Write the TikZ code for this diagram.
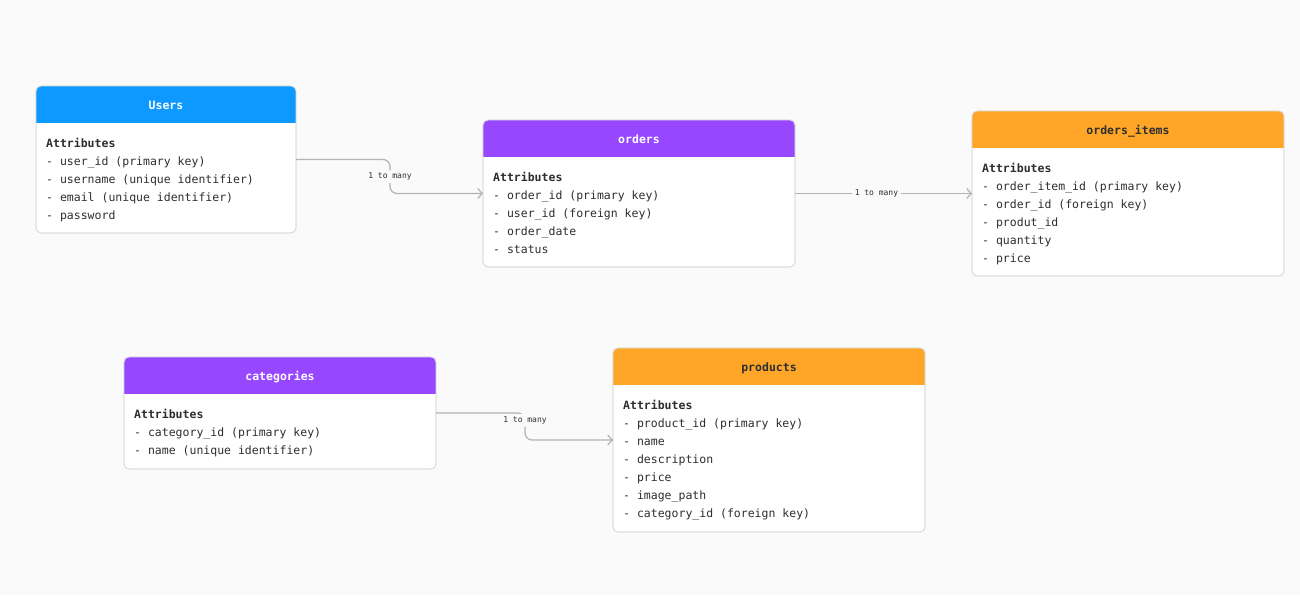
\documentclass[tikz,border=0pt]{standalone}
\usepackage{fontspec}
\setmonofont{DejaVu Sans Mono}
\usetikzlibrary{arrows.meta,calc}
\definecolor{bg}{HTML}{FAFAFA}
\definecolor{bluehd}{HTML}{0D99FF}
\definecolor{purplehd}{HTML}{9747FF}
\definecolor{orangehd}{HTML}{FFA629}
\definecolor{bordergray}{HTML}{DCDCDC}
\definecolor{linegray}{HTML}{B3B3B3}
\definecolor{txt}{HTML}{2E2E2E}
\tikzset{
 tablebox/.style={draw=bordergray, fill=white, rounded corners=5pt, line width=0.8pt, anchor=north west, inner sep=0pt, outer sep=0pt},
 hdrtext/.style={font=\ttfamily\bfseries\fontsize{11.5}{14}\selectfont, inner sep=0pt, anchor=base},
 attr/.style={font=\ttfamily\fontsize{11.5}{14}\selectfont, text=txt, anchor=base west, inner sep=0pt},
 conn/.style={draw=linegray, line width=1.2pt, rounded corners=7pt, -{Straight Barb[length=4.5pt,width=10pt]}},
 lbl/.style={font=\ttfamily\fontsize{8}{9}\selectfont, text=txt, fill=bg, inner sep=2.5pt},
}
% #1 name, #2 x, #3 y, #4 w, #5 h, #6 header colour, #7 title colour, #8 title, #9 lines
\newcommand\erdtable[9]{%
  \node[tablebox, minimum width=#4, minimum height=#5] (#1) at (#2,#3) {};
  \begin{scope}
    \clip[rounded corners=5pt] (#2,#3) rectangle (#2+#4,#3+#5);
    \fill[#6] (#2,#3) rectangle (#2+#4,#3+37);
  \end{scope}
  \draw[bordergray, line width=0.8pt, rounded corners=5pt] (#1.north west) rectangle (#1.south east);
  \node[hdrtext, text=#7] (#1-title) at (#2+#4/2, #3+23.5) {#8};
  \foreach \t [count=\i from 0] in {#9} {
    \node[attr] (#1-line\i) at (#2+10, #3+61+18*\i) {\t};
  }%
}
\begin{document}
\begin{tikzpicture}[x=1pt,y=-1pt]
\useasboundingbox (0,0) rectangle (1300,595);
\fill[bg] (0,0) rectangle (1300,595);

\erdtable{users}{36}{86}{260}{147}{bluehd}{white}{Users}{\textbf{Attributes},- user\_id (primary key),- username (unique identifier),- email (unique identifier),- password}
\erdtable{orders}{483}{120}{312}{147}{purplehd}{white}{orders}{\textbf{Attributes},- order\_id (primary key),- user\_id (foreign key),- order\_date,- status}
\erdtable{ordersitems}{972}{111}{312}{165}{orangehd}{txt}{orders\_items}{\textbf{Attributes},- order\_item\_id (primary key),- order\_id (foreign key),- produt\_id,- quantity,- price}
\erdtable{categories}{124}{357}{312}{112}{purplehd}{white}{categories}{\textbf{Attributes},- category\_id (primary key),- name (unique identifier)}
\erdtable{products}{613}{348}{312}{184}{orangehd}{txt}{products}{\textbf{Attributes},- product\_id (primary key),- name,- description,- price,- image\_path,- category\_id (foreign key)}

\coordinate (k1) at (390,0);
\coordinate (k2) at (525,0);

\draw[conn] (users.east) -- (users.east -| k1) -- node[lbl, pos=0.5] (l1) {1 to many} (orders.west -| k1) -- (orders.west);
\draw[conn] (orders.east) -- node[lbl, pos=0.46] (l2) {1 to many} (ordersitems.west);
\draw[conn] (categories.east) -- (categories.east -| k2) -- node[lbl, pos=0.27] (l3) {1 to many} (products.west -| k2) -- (products.west);
\end{tikzpicture}
\end{document}
